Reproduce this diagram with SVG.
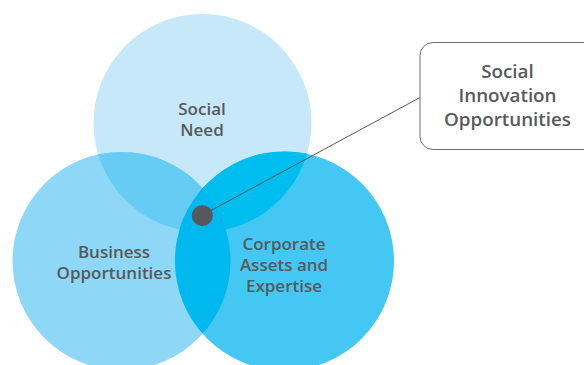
<svg xmlns="http://www.w3.org/2000/svg" width="584" height="365" viewBox="0 0 584 365">
<style>
.lbl{font-family:"Open Sans","Liberation Sans",sans-serif;font-weight:600;fill:#58595c;text-anchor:middle}
.big{font-size:18.8px}
.mid{font-size:17px}
</style>
<defs>
<clipPath id="cT"><circle cx="202.5" cy="123" r="109"/></clipPath>
<clipPath id="cL"><circle cx="121.5" cy="261" r="109"/></clipPath>
</defs>
<rect width="584" height="365" fill="#ffffff"/>
<g id="social-need">
<circle cx="202.5" cy="123" r="109" fill="#c6e8f8"/>
<text class="lbl mid" x="202" y="115">Social</text>
<text class="lbl mid" x="202" y="136">Need</text>
</g>
<g id="business">
<circle cx="121.5" cy="261" r="109" fill="#8ed7f6"/>
</g>
<g id="corporate">
<circle cx="284.5" cy="261" r="109.5" fill="#45c7f3"/>
</g>
<g id="overlaps">
<g clip-path="url(#cT)"><circle cx="121.5" cy="261" r="109" fill="#66ccf4"/><circle cx="284.5" cy="261" r="109.5" fill="#00bdf0"/></g>
<g clip-path="url(#cL)"><circle cx="284.5" cy="261" r="109.5" fill="#00b9ef"/></g>
<g clip-path="url(#cL)"><g clip-path="url(#cT)"><circle cx="284.5" cy="261" r="109.5" fill="#00b7ee"/></g></g>
</g>
<g id="labels">
<text class="lbl mid" x="114" y="258">Business</text>
<text class="lbl mid" x="114" y="279">Opportunities</text>
<text class="lbl mid" x="284" y="250">Corporate</text>
<text class="lbl mid" x="284" y="271">Assets and</text>
<text class="lbl mid" x="284" y="292">Expertise</text>
</g>
<g id="connectors">
<line x1="210" y1="211" x2="420" y2="97.5" stroke="#55585c" stroke-width="1"/>
</g>
<g id="dot">
<circle cx="202.3" cy="215.7" r="10.5" fill="#55585c"/>
</g>
<g id="social-innovation">
<rect x="420" y="42.5" width="180" height="107" rx="13" fill="#ffffff" stroke="#6d6f72" stroke-width="1"/>
<text class="lbl big" x="507.5" y="78">Social</text>
<text class="lbl big" x="507.5" y="101.8">Innovation</text>
<text class="lbl big" x="507.5" y="125.6">Opportunities</text>
</g>
</svg>
